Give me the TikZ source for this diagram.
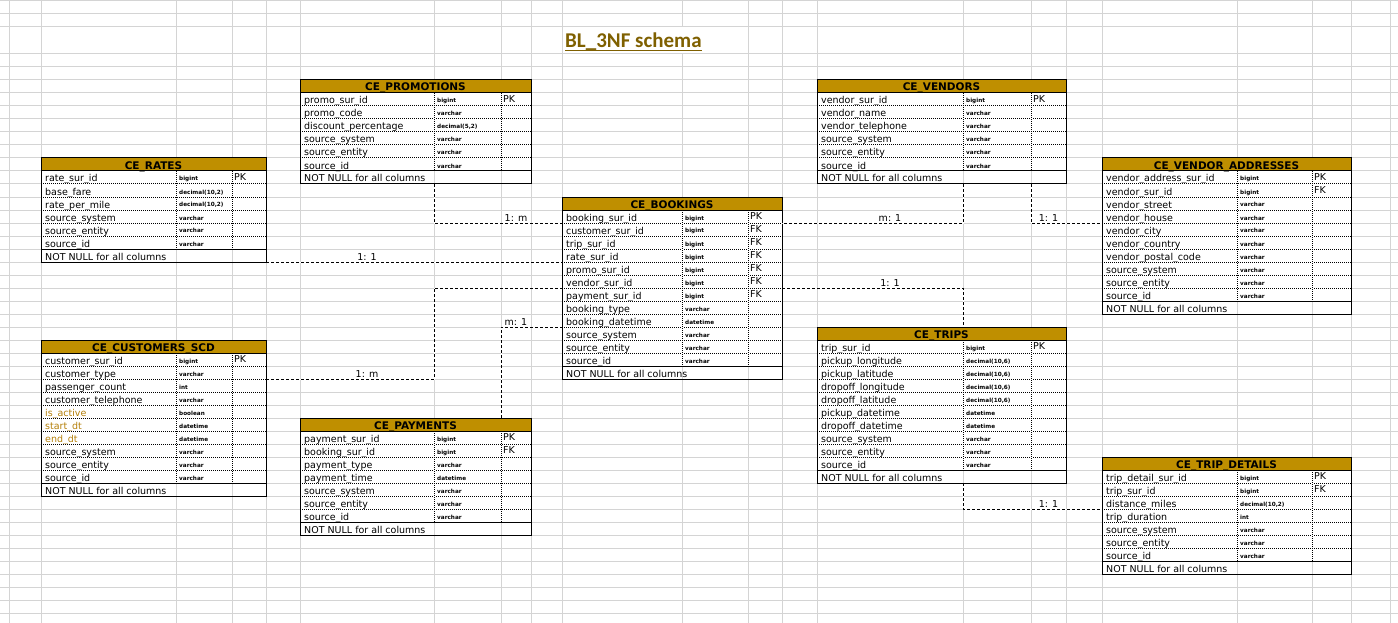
\documentclass[tikz,border=0pt]{standalone}
\usepackage{fontspec}
\setmainfont{DejaVu Sans}
\newfontfamily\titlefont{Carlito}
\usetikzlibrary{calc}
\definecolor{gridc}{HTML}{D4D4D4}
\definecolor{hdr}{HTML}{BF8F00}
\definecolor{ttl}{HTML}{7F6000}
\definecolor{scd}{HTML}{B5800A}
\tikzset{
 gridline/.style={draw=gridc, line width=1pt},
 dotline/.style={preaction={draw=white, line width=1pt}, draw=black, line width=1pt, dash pattern=on 1pt off 1pt},
 solidline/.style={draw=black, line width=1pt},
 conn/.style={preaction={draw=white, line width=1pt}, draw=black, line width=1pt, dash pattern=on 3pt off 2pt},
 colname/.style={anchor=base west, inner sep=0pt, font=\fontsize{9.5}{10}\selectfont},
 coltype/.style={anchor=base west, inner sep=0pt, font=\bfseries\fontsize{5.7}{6}\selectfont},
 colkey/.style={anchor=base west, inner sep=0pt, font=\fontsize{9.5}{10}\selectfont},
 hdrtext/.style={anchor=base, inner sep=0pt, font=\bfseries\fontsize{10.5}{11}\selectfont},
 rel/.style={anchor=base, inner sep=0pt, font=\fontsize{9.5}{10}\selectfont},
}
% #1 name, #2 x0, #3 x1, #4 x2, #5 x3, #6 top, #7 title, #8 rows
\newcommand\ertable[8]{%
 \foreach \cn/\ct/\ck [count=\i] in {#8}{%
   \pgfmathsetmacro\rb{#6+13*(\i+1)}%
   \node[colname] (#1-n\i) at (#2+4,\rb-2) {\cn};
   \node[coltype] (#1-y\i) at (#3+3,\rb-3) {\ct};
   \node[colkey] (#1-k\i) at (#4+2,\rb-3.3) {\ck};
   \xdef\nrows{\i}%
 }%
 \pgfmathtruncatemacro\nr{\nrows}%
 \pgfmathtruncatemacro\nt{\nr+2}%
 \pgfmathsetmacro\yb{#6+13*(\nr+2)}%
 \pgfmathsetmacro\yn{#6+13*(\nr+1)}%
 \fill[hdr] (#2,#6) rectangle (#5,#6+13);
 \node[hdrtext] (#1) at ({(#2+#5)/2},#6+11) {#7};
 \node[colname] (#1-nn) at (#2+4,\yb-2) {NOT NULL for all columns};
 \foreach \j in {2,...,\nr}{\draw[dotline] (#2,#6+13*\j) -- (#5,#6+13*\j);}
 \draw[dotline] (#3,#6+13) -- (#3,\yn);
 \draw[dotline] (#4,#6+13) -- (#4,\yn);
 \draw[solidline] (#2,#6+13) -- (#5,#6+13);
 \draw[solidline] (#2,\yn) -- (#5,\yn);
 \draw[solidline] (#2,#6) rectangle (#5,\yb);
 \foreach \j in {0,...,\nt}{%
   \coordinate (#1-l\j) at (#2,#6+13*\j);
   \coordinate (#1-r\j) at (#5,#6+13*\j);
 }
 \coordinate (#1-t1) at (#3,#6);
 \coordinate (#1-t2) at (#4,#6);
 \coordinate (#1-b1) at (#3,\yb);
 \coordinate (#1-b2) at (#4,\yb);
}
\begin{document}
\begin{tikzpicture}[x=1pt,y=-1pt]
\useasboundingbox (0,0) rectangle (1398,623);
\fill[white] (0,0) rectangle (1398,623);
% spreadsheet grid
\foreach \gy in {1,14,27,54} {\draw[gridline] (0,\gy) -- (1398,\gy);}
\foreach \k in {0,...,42} {\draw[gridline] (0,67+13*\k) -- (1398,67+13*\k);}
\foreach \gx in {9,41,176,232,266,300,434,501,531,562,748,782,817,963,1031,1066,1102,1237,1312,1351,1390}
  {\draw[gridline] (\gx,0) -- (\gx,623);}
\draw[gridline] (682,0) -- (682,27);
\draw[gridline] (682,54) -- (682,623);
% title
\node[anchor=base west, inner sep=0pt, text=ttl, font=\titlefont\bfseries\fontsize{21}{24}\selectfont] (title) at (565,48) {BL\_3NF schema};
\draw[ttl, line width=1.5pt] ($(title.base west)+(0,2.5)$) -- ($(title.base east)+(0,2.5)$);

\ertable{promotions}{300}{434}{501}{531}{80}{CE\_PROMOTIONS}{%
 promo\_sur\_id/bigint/PK, promo\_code/varchar/{}, discount\_percentage/{decimal(5,2)}/{},
 source\_system/varchar/{}, source\_entity/varchar/{}, source\_id/varchar/{}}
\ertable{vendors}{817}{963}{1031}{1066}{80}{CE\_VENDORS}{%
 vendor\_sur\_id/bigint/PK, vendor\_name/varchar/{}, vendor\_telephone/varchar/{},
 source\_system/varchar/{}, source\_entity/varchar/{}, source\_id/varchar/{}}
\ertable{rates}{41}{176}{232}{266}{158}{CE\_RATES}{%
 rate\_sur\_id/bigint/PK, base\_fare/{decimal(10,2)}/{}, rate\_per\_mile/{decimal(10,2)}/{},
 source\_system/varchar/{}, source\_entity/varchar/{}, source\_id/varchar/{}}
\ertable{addresses}{1102}{1237}{1312}{1351}{158}{CE\_VENDOR\_ADDRESSES}{%
 vendor\_address\_sur\_id/bigint/PK, vendor\_sur\_id/bigint/FK, vendor\_street/varchar/{},
 vendor\_house/varchar/{}, vendor\_city/varchar/{}, vendor\_country/varchar/{},
 vendor\_postal\_code/varchar/{}, source\_system/varchar/{}, source\_entity/varchar/{}, source\_id/varchar/{}}
\ertable{bookings}{562}{682}{748}{782}{197}{CE\_BOOKINGS}{%
 booking\_sur\_id/bigint/PK, customer\_sur\_id/bigint/FK, trip\_sur\_id/bigint/FK,
 rate\_sur\_id/bigint/FK, promo\_sur\_id/bigint/FK, vendor\_sur\_id/bigint/FK,
 payment\_sur\_id/bigint/FK, booking\_type/varchar/{}, booking\_datetime/datetime/{},
 source\_system/varchar/{}, source\_entity/varchar/{}, source\_id/varchar/{}}
\ertable{customers}{41}{176}{232}{266}{340}{CE\_CUSTOMERS\_SCD}{%
 customer\_sur\_id/bigint/PK, customer\_type/varchar/{}, passenger\_count/int/{},
 customer\_telephone/varchar/{}, {\color{scd}is\_active}/boolean/{},
 {\color{scd}start\_dt}/datetime/{}, {\color{scd}end\_dt}/datetime/{},
 source\_system/varchar/{}, source\_entity/varchar/{}, source\_id/varchar/{}}
\ertable{payments}{300}{434}{501}{531}{418}{CE\_PAYMENTS}{%
 payment\_sur\_id/bigint/PK, booking\_sur\_id/bigint/FK, payment\_type/varchar/{},
 payment\_time/datetime/{}, source\_system/varchar/{}, source\_entity/varchar/{}, source\_id/varchar/{}}
\ertable{trips}{817}{963}{1031}{1066}{327}{CE\_TRIPS}{%
 trip\_sur\_id/bigint/PK, pickup\_longitude/{decimal(10,6)}/{}, pickup\_latitude/{decimal(10,6)}/{},
 dropoff\_longitude/{decimal(10,6)}/{}, dropoff\_latitude/{decimal(10,6)}/{},
 pickup\_datetime/datetime/{}, dropoff\_datetime/datetime/{},
 source\_system/varchar/{}, source\_entity/varchar/{}, source\_id/varchar/{}}
\ertable{tripdetails}{1102}{1237}{1312}{1351}{457}{CE\_TRIP\_DETAILS}{%
 trip\_detail\_sur\_id/bigint/PK, trip\_sur\_id/bigint/FK, distance\_miles/{decimal(10,2)}/{},
 trip\_duration/int/{}, source\_system/varchar/{}, source\_entity/varchar/{}, source\_id/varchar/{}}

% connectors
\draw[conn] (promotions-b1) |- (bookings-l2);
\draw[conn] (rates-r8) -- (bookings-l5);
\draw[conn] (customers-r3) -| (payments-t1 |- bookings-l7) -- (bookings-l7);
\draw[conn] (payments-t2) |- (bookings-l10);
\draw[conn] (vendors-b1) |- (bookings-r2);
\draw[conn] (vendors-b2) |- (addresses-l5);
\draw[conn] (bookings-r7) -| (trips-t1);
\draw[conn] (trips-b1) |- (tripdetails-l4);
% cardinality labels
\node[rel] (c1) at (516,221) {1: m};
\node[rel] (c2) at (367,260) {1: 1};
\node[rel] (c3) at (367,377) {1: m};
\node[rel] (c4) at (516,325) {m: 1};
\node[rel] (c5) at (890,221) {m: 1};
\node[rel] (c6) at (1048.5,221) {1: 1};
\node[rel] (c7) at (890,286) {1: 1};
\node[rel] (c8) at (1048.5,507) {1: 1};
\end{tikzpicture}
\end{document}
